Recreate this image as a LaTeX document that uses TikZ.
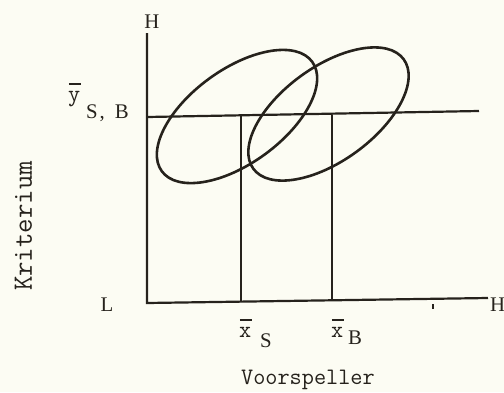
\documentclass[tikz,border=0pt]{standalone}
\usepackage{fontspec}
\setmainfont{Liberation Serif}
\usetikzlibrary{positioning}

\definecolor{paper}{RGB}{252,252,243}
\definecolor{ink}{RGB}{38,34,28}
% typed bar over a letter
\newcommand{\barred}[1]{\rlap{\kern0.4pt\rule[8.2pt]{5.8pt}{0.8pt}}#1}

\begin{document}
\begin{tikzpicture}[x=0.5pt, y=-0.5pt, line width=1.1pt, draw=ink, text=ink,
  tw/.style={font=\fontsize{11.8}{13}\ttfamily, inner sep=0pt},
  twbig/.style={font=\fontsize{14}{16}\ttfamily, inner sep=0pt},
  rm/.style={font=\fontsize{10.4}{12}\rmfamily, inner sep=0pt},
  oval/.style={line width=1.3pt}]

  % -- Paper --
  \fill[paper] (0,0) rectangle (504,392);
  \useasboundingbox (0,0) rectangle (504,392);

  % -- Axes --
  \coordinate (top) at (147,33);
  \coordinate (origin) at (147,303);
  \coordinate (right) at (488,298);
  \draw (top) -- (origin) -- (right);
  \draw[line width=0.6pt] (433,304) -- (433,309);

  % -- Mean of the criterion --
  \coordinate (yMeanL) at (147,117);
  \coordinate (yMeanR) at (479,111);
  \draw (yMeanL) -- (yMeanR);

  % -- Means of the predictor --
  \coordinate (xSTop) at (241,116);
  \coordinate (xSBot) at (241,302);
  \coordinate (xBTop) at (332,115);
  \coordinate (xBBot) at (332,301);
  \draw (xSTop) -- (xSBot);
  \draw (xBTop) -- (xBBot);

  % -- Groups --
  \coordinate (ovalS) at (237,116.5);
  \coordinate (ovalB) at (328.5,114);
  \draw[oval, rotate around={36:(ovalS)}] (ovalS) ellipse [x radius=93, y radius=47];
  \draw[oval, rotate around={36:(ovalB)}] (ovalB) ellipse [x radius=93, y radius=47];

  % -- Axis ends --
  \node[rm, anchor=base] (hTop) at (152,28) {H};
  \node[rm, anchor=base] (lLow) at (107,311) {L};
  \node[rm, anchor=base west] (hRight) at (489,311) {H};

  % -- Mean labels --
  \node[tw, anchor=base west] (yBar) at (67,101) {\barred{y}};
  \node[rm, anchor=base west] (ySub) at (85,118) {S\kern1pt,\kern5pt B};
  \node[tw, anchor=base west] (xS) at (238,337) {\barred{x}};
  \node[rm, anchor=base west] (xSSub) at (259,347) {S};
  \node[tw, anchor=base west] (xB) at (330,337) {\barred{x}};
  \node[rm, anchor=base west] (xBSub) at (347,344) {B};

  % -- Axis titles --
  \node[tw, anchor=base west] (predictor) at (240,384) {Voorspeller};
  \node[twbig, rotate=90, anchor=base] (criterion) at (32,226) {Kriterium};

\end{tikzpicture}
\end{document}
